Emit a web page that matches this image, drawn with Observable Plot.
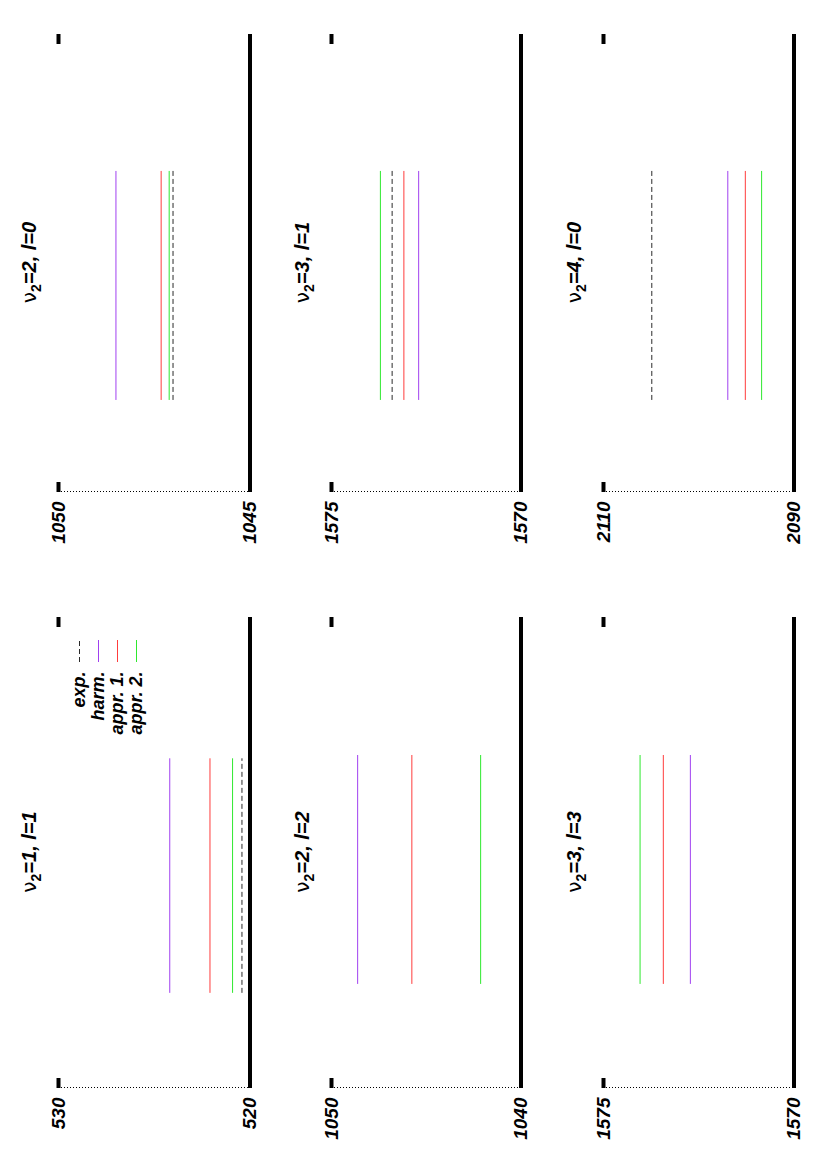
<!DOCTYPE html>
<html>
<head>
<meta charset="utf-8">
<script src="https://cdn.jsdelivr.net/npm/d3@7"></script>
<script src="https://cdn.jsdelivr.net/npm/@observablehq/plot@0.6"></script>
<style>
html, body { margin: 0; padding: 0; background: #fff; width: 817px; height: 1168px; overflow: hidden; }
#page { position: relative; width: 817px; height: 1168px; }
#rot { position: absolute; left: 0; top: 0; width: 1168px; height: 817px;
       transform-origin: 0 0; transform: translate(0px, 1168px) rotate(-90deg); }
.panel { position: absolute; }
.panel svg { max-width: none !important; }
</style>
</head>
<body>
<div id="page"><div id="rot"></div></div>
<script>
// ---------- data ----------
const series = ["exp.", "harm.", "appr. 1.", "appr. 2."];
const seriesColors = ["#2a2a2a", "#a040f0", "#ff3c3c", "#2ee82e"];

const panelTitles  = ["ν2=1, l=1", "ν2=2, l=0", "ν2=2, l=2", "ν2=3, l=1", "ν2=3, l=3", "ν2=4, l=0"];
const panelDomains = [[520, 530], [1045, 1050], [1040, 1050], [1570, 1575], [1570, 1575], [2090, 2110]];
const expValues    = [520.42, 1047.01, null, 1573.40, null, 2104.93];
const harmValues   = [524.19, 1048.50, 1048.62, 1572.70, 1572.72, 2096.95];
const appr1Values  = [522.09, 1047.32, 1045.76, 1573.09, 1573.43, 2095.11];
const appr2Values  = [520.91, 1047.11, 1042.13, 1573.71, 1574.04, 2093.40];
const lineSpans    = [[0.202, 0.700], [0.201, 0.701], [0.221, 0.707], [0.201, 0.701], [0.221, 0.707], [0.201, 0.701]];

// ---------- layout (original, unrotated frame 1168 x 817) ----------
const colLeft = [0, 584], colWidth = [584, 584];
const marginL = [80, 92], marginR = [33, 34];
const rowTop = [0, 273, 546], rowHeight = [273, 273, 271];
const marginT = [58, 58, 57], marginB = [23.5, 25.5, 23.5];
const FONT = "'Liberation Sans', Arial, Helvetica, sans-serif";
const colorScale = {domain: series, range: seriesColors};
const valueArrays = [expValues, harmValues, appr1Values, appr2Values];

const root = document.getElementById("rot");
const NS = "http://www.w3.org/2000/svg";

function fixTitle(svg) {
  svg.querySelectorAll("text").forEach(t => {
    const m = /^ν(\d)(.*)$/.exec(t.textContent);
    if (!m) return;
    t.textContent = "";
    const a = document.createElementNS(NS, "tspan");
    a.textContent = "ν";
    a.setAttribute("font-weight", "normal");
    a.setAttribute("font-style", "normal");
    a.setAttribute("font-family", "'DejaVu Sans', sans-serif");
    const b = document.createElementNS(NS, "tspan");
    b.textContent = m[1];
    b.setAttribute("font-size", "14px");
    b.setAttribute("font-style", "normal");
    b.setAttribute("dy", "5");
    const c = document.createElementNS(NS, "tspan");
    c.textContent = m[2];
    c.setAttribute("dy", "-5");
    t.append(a, b, c);
  });
}

function place(el, left, top, w, h) {
  const div = document.createElement("div");
  div.className = "panel";
  div.style.left = left + "px";
  div.style.top = top + "px";
  div.style.width = w + "px";
  div.style.height = h + "px";
  div.appendChild(el);
  root.appendChild(div);
}

panelTitles.forEach((title, i) => {
  const col = i % 2, row = Math.floor(i / 2);
  const [lo, hi] = panelDomains[i];
  const levels = [];
  valueArrays.forEach((arr, k) => {
    if (arr[i] != null) levels.push({series: series[k], value: arr[i], x1: lineSpans[i][0], x2: lineSpans[i][1]});
  });
  const innerW = colWidth[col] - marginL[col] - marginR[col];
  const svg = Plot.plot({
    width: colWidth[col],
    height: rowHeight[row],
    marginLeft: marginL[col],
    marginRight: marginR[col],
    marginTop: marginT[row],
    marginBottom: marginB[row],
    x: {domain: [0, 1], axis: null},
    y: {domain: [lo, hi], label: null},
    color: colorScale,
    style: {fontFamily: FONT, fontSize: "19px", fontWeight: "bold", fontStyle: "italic",
            color: "#000", background: "transparent", overflow: "visible"},
    marks: [
      Plot.ruleX([0], {stroke: "#000", strokeWidth: 1, strokeDasharray: "1,2"}),
      Plot.axisY([lo, hi], {tickSize: 0, tickPadding: 10, tickFormat: d => String(d), label: null, fontSize: 19}),
      Plot.tickY([hi], {stroke: "#000", strokeWidth: 4, insetRight: innerW - 10}),
      Plot.tickY([hi], {stroke: "#000", strokeWidth: 4, insetLeft: innerW - 10}),
      Plot.ruleY(levels.filter(d => d.series !== series[0]), {y: "value", x1: "x1", x2: "x2", stroke: "series", strokeWidth: 1}),
      Plot.ruleY(levels.filter(d => d.series === series[0]), {y: "value", x1: "x1", x2: "x2", stroke: "series", strokeWidth: 1, strokeDasharray: "5,3"}),
      Plot.ruleY([lo], {stroke: "#000", strokeWidth: 4}),
      Plot.text([title], {frameAnchor: "top", dy: -23, text: d => d, lineAnchor: "bottom", fontSize: 20, fill: "#000"})
    ]
  });
  fixTitle(svg);
  place(svg, colLeft[col], rowTop[row], colWidth[col], rowHeight[row]);
});

// ---------- legend (inside first panel, top right) ----------
const legend = Plot.plot({
  width: 160,
  height: 90,
  marginLeft: 126,
  marginRight: 12,
  marginTop: 18,
  marginBottom: 13,
  x: {domain: [0, 1], axis: null},
  y: {type: "point", domain: series, padding: 0, axis: null},
  color: colorScale,
  style: {fontFamily: FONT, fontSize: "18px", fontWeight: "bold", fontStyle: "italic",
          color: "#000", background: "transparent", overflow: "visible"},
  marks: [
    Plot.ruleY(series.slice(1), {y: d => d, x1: 0, x2: 1, stroke: d => d, strokeWidth: 1}),
    Plot.ruleY(series.slice(0, 1), {y: d => d, x1: 0, x2: 1, stroke: d => d, strokeWidth: 1, strokeDasharray: "5,3"}),
    Plot.text(series, {y: d => d, x: 0, text: d => d, textAnchor: "end", dx: -10, fill: "#000", fontSize: 18})
  ]
});
place(legend, 380, 60, 160, 90);
</script>
</body>
</html>
